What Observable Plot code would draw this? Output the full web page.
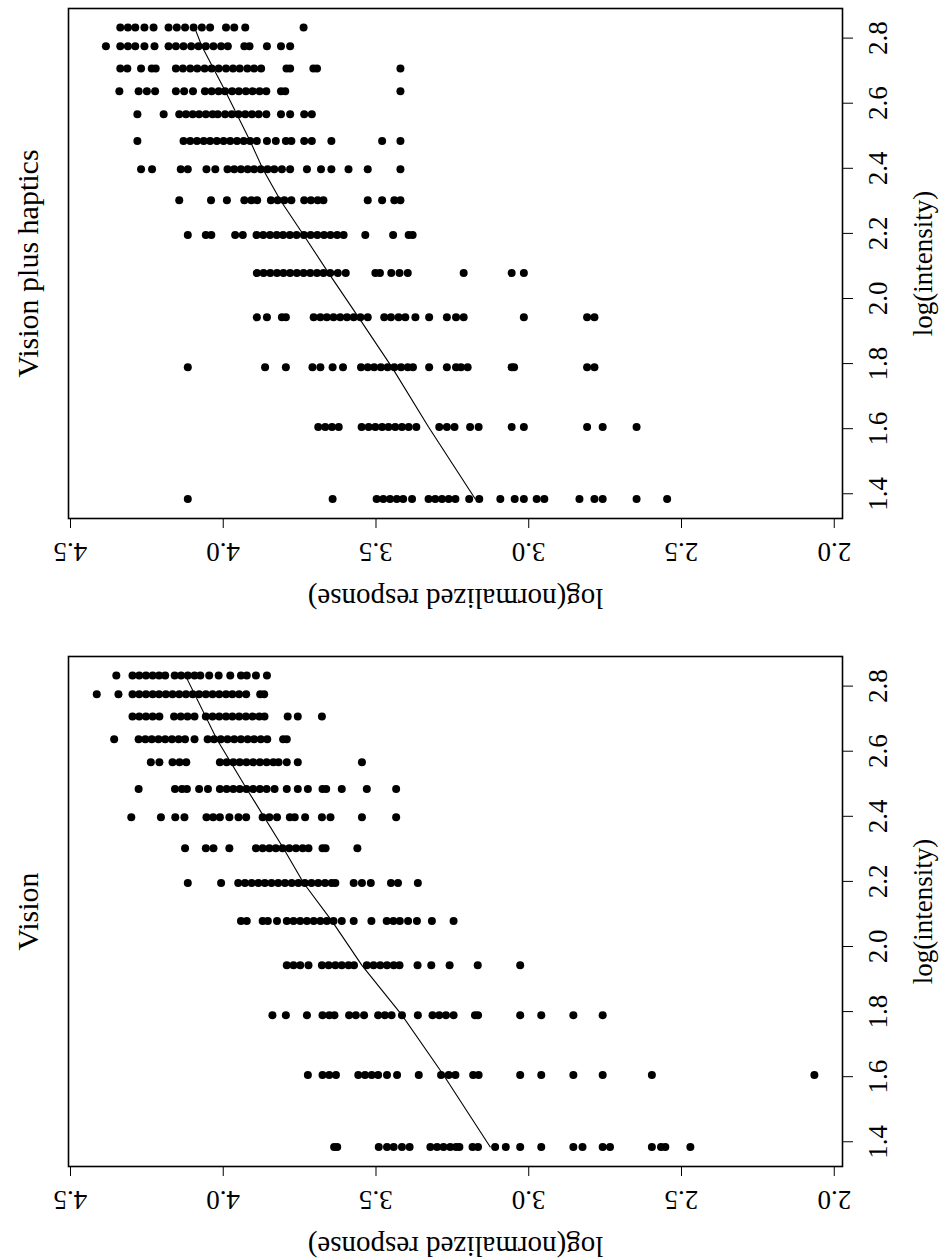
<!DOCTYPE html>
<html>
<head>
<meta charset="utf-8">
<script src="https://cdn.jsdelivr.net/npm/d3@7"></script>
<script src="https://cdn.jsdelivr.net/npm/@observablehq/plot@0.6"></script>
<style>
  html, body { margin: 0; padding: 0; background: #fff; }
  #chart svg { display: block; }
</style>
</head>
<body>
<div id="chart"></div>
<script>
// Intensity levels (log) shared by both panels, top row first
const intensityLevels = [2.833, 2.775, 2.707, 2.637, 2.566, 2.484, 2.397, 2.302, 2.195, 2.078, 1.942, 1.789, 1.605, 1.384];

// Panel titles and axis labels
const panelTitles = ["Vision plus haptics", "Vision"];
const xAxisLabel = "log(normalized response)";
const yAxisLabel = "log(intensity)";
const xTicks = [4.5, 4.0, 3.5, 3.0, 2.5, 2.0];
const yTicks = [1.4, 1.6, 1.8, 2.0, 2.2, 2.4, 2.6, 2.8];

// log(normalized response) for each intensity level — Vision plus haptics
const visionHapticsRows = [
  [4.337,4.312,4.288,4.258,4.228,4.179,4.152,4.125,4.097,4.070,4.043,3.991,3.964,3.928,3.737],
  [4.384,4.337,4.312,4.288,4.258,4.225,4.179,4.155,4.130,4.105,4.081,4.057,4.032,4.007,3.985,3.931,3.914,3.857,3.811,3.781],
  [4.337,4.314,4.269,4.234,4.221,4.155,4.132,4.108,4.085,4.061,4.038,4.015,3.991,3.968,3.946,3.921,3.899,3.876,3.793,3.781,3.705,3.693,3.420],
  [4.340,4.277,4.250,4.223,4.155,4.128,4.099,4.060,4.038,4.015,3.994,3.971,3.949,3.926,3.904,3.881,3.859,3.811,3.797,3.420],
  [4.281,4.195,4.144,4.122,4.100,4.079,4.057,4.035,4.018,3.994,3.972,3.950,3.928,3.906,3.884,3.859,3.811,3.781,3.735,3.710],
  [4.281,4.130,4.108,4.086,4.064,4.043,4.021,3.999,3.977,3.955,3.933,3.912,3.890,3.857,3.828,3.795,3.777,3.735,3.710,3.646,3.480,3.420],
  [4.269,4.233,4.139,4.116,4.055,4.026,3.986,3.964,3.942,3.920,3.899,3.877,3.855,3.833,3.808,3.781,3.726,3.680,3.646,3.590,3.527,3.420],
  [4.144,4.040,3.988,3.931,3.908,3.889,3.844,3.822,3.800,3.777,3.735,3.713,3.691,3.672,3.527,3.480,3.440,3.420],
  [4.116,4.057,4.039,3.961,3.936,3.891,3.869,3.847,3.825,3.804,3.782,3.760,3.736,3.714,3.692,3.670,3.649,3.627,3.606,3.535,3.444,3.393,3.380],
  [3.890,3.868,3.846,3.824,3.803,3.781,3.759,3.737,3.715,3.693,3.672,3.650,3.625,3.599,3.502,3.487,3.450,3.423,3.396,3.213,3.056,3.016],
  [3.890,3.857,3.808,3.795,3.704,3.682,3.661,3.639,3.617,3.595,3.573,3.551,3.527,3.473,3.451,3.426,3.404,3.371,3.326,3.268,3.238,3.213,3.016,2.809,2.785],
  [4.116,3.863,3.795,3.708,3.682,3.642,3.608,3.549,3.527,3.506,3.484,3.462,3.440,3.418,3.396,3.379,3.326,3.268,3.238,3.222,3.200,3.056,3.048,2.809,2.785],
  [3.689,3.666,3.644,3.622,3.547,3.524,3.502,3.480,3.459,3.437,3.415,3.393,3.368,3.293,3.268,3.243,3.192,3.164,3.056,3.016,2.809,2.758,2.647],
  [4.116,3.642,3.498,3.476,3.454,3.432,3.411,3.382,3.328,3.306,3.284,3.262,3.240,3.195,3.162,3.093,3.046,3.016,2.974,2.949,2.834,2.785,2.758,2.647,2.547]
];

// log(normalized response) for each intensity level — Vision
const visionRows = [
  [4.350,4.297,4.275,4.253,4.231,4.210,4.190,4.159,4.138,4.116,4.094,4.075,4.046,4.015,3.977,3.942,3.923,3.893,3.857],
  [4.414,4.343,4.297,4.275,4.253,4.231,4.210,4.188,4.166,4.144,4.122,4.100,4.079,4.057,4.035,4.013,3.991,3.970,3.948,3.925,3.879,3.866],
  [4.297,4.275,4.253,4.231,4.209,4.161,4.139,4.117,4.094,4.057,4.035,4.013,3.991,3.970,3.948,3.926,3.904,3.882,3.865,3.789,3.756,3.677],
  [4.357,4.277,4.255,4.234,4.212,4.190,4.168,4.146,4.125,4.094,4.051,4.030,4.008,3.986,3.964,3.942,3.920,3.899,3.877,3.856,3.804,3.792],
  [4.237,4.209,4.166,4.143,4.121,4.011,3.989,3.967,3.946,3.924,3.902,3.880,3.858,3.836,3.819,3.792,3.756,3.546],
  [4.277,4.158,4.135,4.119,4.079,4.050,4.011,3.989,3.967,3.946,3.924,3.902,3.880,3.858,3.832,3.792,3.756,3.723,3.675,3.663,3.612,3.530,3.434],
  [4.301,4.204,4.157,4.127,4.055,4.033,4.011,3.980,3.950,3.925,3.871,3.849,3.824,3.782,3.766,3.732,3.677,3.649,3.546,3.434],
  [4.125,4.057,4.032,3.980,3.893,3.871,3.849,3.828,3.806,3.784,3.762,3.740,3.721,3.675,3.665,3.561],
  [4.116,4.007,3.951,3.929,3.907,3.885,3.864,3.842,3.820,3.798,3.776,3.754,3.733,3.711,3.689,3.667,3.645,3.633,3.573,3.546,3.517,3.451,3.428,3.363],
  [3.942,3.923,3.871,3.854,3.824,3.792,3.770,3.748,3.726,3.704,3.682,3.661,3.639,3.612,3.573,3.515,3.465,3.443,3.422,3.395,3.366,3.317,3.246],
  [3.792,3.770,3.748,3.721,3.677,3.655,3.633,3.612,3.590,3.572,3.530,3.508,3.486,3.464,3.442,3.423,3.364,3.319,3.259,3.167,3.028],
  [3.839,3.795,3.726,3.675,3.653,3.636,3.588,3.566,3.539,3.493,3.471,3.449,3.415,3.363,3.315,3.293,3.271,3.246,3.176,3.166,3.028,2.959,2.854,2.758],
  [3.723,3.675,3.653,3.631,3.558,3.536,3.514,3.493,3.464,3.431,3.360,3.287,3.262,3.240,3.182,3.164,3.028,2.959,2.854,2.758,2.597,2.065],
  [3.637,3.627,3.491,3.464,3.442,3.415,3.390,3.322,3.300,3.279,3.257,3.238,3.227,3.184,3.166,3.110,3.075,3.028,2.959,2.854,2.824,2.758,2.734,2.597,2.567,2.553,2.471]
];

// Fitted curves
const fitVisionHapticsIntensity = [2.833, 2.775, 2.637, 2.484, 2.397, 2.302, 2.195, 2.078, 1.942, 1.789, 1.605, 1.384];
const fitVisionHapticsResponse  = [4.094, 4.070, 3.993, 3.912, 3.870, 3.813, 3.737, 3.655, 3.557, 3.448, 3.328, 3.175];
const fitVisionIntensity = [2.833, 2.637, 2.484, 2.302, 2.195, 2.078, 1.942, 1.789, 1.605, 1.384];
const fitVisionResponse  = [4.124, 4.021, 3.923, 3.803, 3.737, 3.644, 3.546, 3.415, 3.279, 3.126];

function toPoints(rows) {
  return rows.flatMap((row, i) => row.map(r => ({intensity: intensityLevels[i], response: r})));
}

function panel(title, rows, fitI, fitR, height, marginBottom) {
  const pts = toPoints(rows);
  const fit = fitI.map((v, i) => ({intensity: v, response: fitR[i]}));
  return Plot.plot({
    width: 943,
    height,
    marginTop: 8,
    marginBottom,
    marginLeft: 68,
    marginRight: 101,
    style: {
      fontFamily: '"Liberation Serif", "Times New Roman", serif',
      fontSize: "27px",
      color: "black",
      background: "white",
      overflow: "visible"
    },
    x: {domain: [4.5065, 1.973]},
    y: {domain: [1.324, 2.891]},
    marks: [
      Plot.dot(pts, {x: "response", y: "intensity", r: 4, fill: "black"}),
      Plot.line(fit, {x: "response", y: "intensity", stroke: "black", strokeWidth: 1.1}),
      Plot.frame({stroke: "black", strokeWidth: 1.6}),
      Plot.axisX({
        ticks: xTicks, tickFormat: d3.format(".1f"), tickSize: 10, tickPadding: 14,
        tickRotate: 180, textAnchor: "middle", lineAnchor: "bottom", label: null
      }),
      Plot.axisY({
        anchor: "right", ticks: yTicks, tickFormat: d3.format(".1f"), tickSize: 10, tickPadding: 34,
        tickRotate: -90, textAnchor: "middle", lineAnchor: "bottom", label: null
      }),
      Plot.text([xAxisLabel], {
        text: d => d, frameAnchor: "bottom", dy: 70, rotate: 180, fontSize: 29,
        textAnchor: "middle", lineAnchor: "bottom"
      }),
      Plot.text([yAxisLabel], {
        text: d => d, frameAnchor: "right", dx: 89, rotate: -90,
        textAnchor: "middle", lineAnchor: "bottom"
      }),
      Plot.text([title], {
        text: d => d, frameAnchor: "left", dx: -31, rotate: -90,
        textAnchor: "middle", lineAnchor: "bottom", fontSize: 30
      })
    ]
  });
}

const chart = document.getElementById("chart");
chart.append(panel(panelTitles[0], visionHapticsRows, fitVisionHapticsIntensity, fitVisionHapticsResponse, 648, 130));
chart.append(panel(panelTitles[1], visionRows, fitVisionIntensity, fitVisionResponse, 612, 94));
</script>
</body>
</html>
